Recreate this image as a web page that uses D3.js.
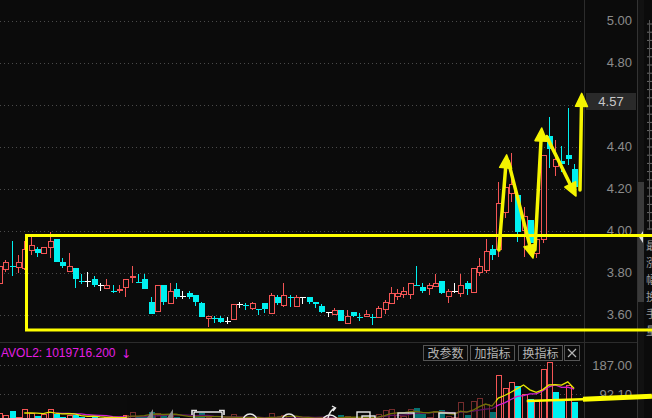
<!DOCTYPE html>
<html><head><meta charset="utf-8">
<script src="https://cdn.jsdelivr.net/npm/d3@7"></script>
<style>html,body{margin:0;padding:0;background:#0b0b0b;overflow:hidden}svg{display:block}</style>
</head><body><svg id="c" width="652" height="418"></svg>
<script>
// ---- data ----
const opens  = [3.751,3.818,3.834,3.827,3.822,3.908,3.913,3.894,3.922,3.960,3.851,3.808,3.822,3.762,3.760,3.770,3.741,3.727,3.715,3.720,3.732,3.782,3.758,3.770,3.661,3.618,3.741,3.656,3.722,3.689,3.703,3.694,3.656,3.584,3.582,3.584,3.570,3.580,3.651,3.644,3.632,3.629,3.656,3.608,3.684,3.646,3.682,3.642,3.682,3.684,3.661,3.642,3.613,3.604,3.622,3.561,3.613,3.591,3.594,3.591,3.589,3.627,3.656,3.689,3.699,3.699,3.743,3.732,3.727,3.737,3.760,3.689,3.713,3.703,3.751,3.708,3.803,3.813,3.913,3.913,4.089,4.180,4.170,4.003,4.051,3.894,3.960,4.451,4.308,4.332,4.360,4.294];
const highs  = [3.851,3.860,3.951,3.884,3.951,3.970,3.922,3.922,3.994,3.960,3.870,3.894,3.822,3.794,3.803,3.784,3.751,3.770,3.741,3.741,3.770,3.832,3.794,3.794,3.684,3.741,3.741,3.751,3.751,3.713,3.713,3.694,3.661,3.594,3.594,3.594,3.589,3.651,3.661,3.656,3.661,3.629,3.656,3.703,3.694,3.751,3.694,3.694,3.684,3.684,3.661,3.651,3.613,3.632,3.622,3.622,3.613,3.608,3.622,3.604,3.642,3.670,3.732,3.722,3.732,3.751,3.832,3.751,3.751,3.794,3.760,3.722,3.751,3.794,3.760,3.822,3.870,3.960,3.932,4.232,4.251,4.370,4.170,4.113,4.051,3.960,4.360,4.542,4.430,4.403,4.584,4.318];
const lows   = [3.751,3.803,3.784,3.799,3.813,3.884,3.875,3.889,3.870,3.851,3.822,3.808,3.727,3.746,3.732,3.732,3.713,3.722,3.703,3.703,3.684,3.751,3.751,3.722,3.604,3.618,3.646,3.656,3.675,3.675,3.675,3.642,3.589,3.542,3.561,3.561,3.556,3.580,3.632,3.622,3.622,3.599,3.608,3.608,3.646,3.637,3.637,3.642,3.651,3.651,3.632,3.608,3.589,3.604,3.570,3.561,3.589,3.570,3.589,3.551,3.589,3.604,3.651,3.670,3.680,3.675,3.737,3.703,3.694,3.737,3.699,3.656,3.703,3.684,3.694,3.703,3.784,3.799,3.860,3.875,4.060,4.137,3.946,3.875,3.922,3.870,3.942,4.299,4.260,4.280,4.313,4.208];
const closes = [3.832,3.851,3.830,3.851,3.913,3.932,3.894,3.922,3.951,3.851,3.832,3.832,3.770,3.758,3.760,3.741,3.741,3.741,3.711,3.724,3.770,3.786,3.754,3.722,3.604,3.741,3.661,3.713,3.684,3.689,3.684,3.661,3.589,3.594,3.578,3.565,3.570,3.651,3.651,3.640,3.656,3.625,3.627,3.694,3.656,3.694,3.678,3.684,3.682,3.661,3.651,3.613,3.613,3.622,3.570,3.594,3.594,3.587,3.604,3.587,3.632,3.661,3.703,3.703,3.713,3.751,3.739,3.713,3.741,3.751,3.703,3.713,3.713,3.741,3.722,3.822,3.832,3.903,3.884,4.132,4.208,4.222,3.994,4.070,3.942,3.960,4.360,4.389,4.341,4.318,4.341,4.208];
const volumes= [30,25,38,20,44,32,22,28,44,28,20,25,25,18,15,22,14,18,15,14,25,35,18,22,35,30,28,24,20,15,16,18,30,20,14,15,12,28,16,14,16,12,15,30,18,25,15,20,12,14,12,18,12,14,25,22,15,12,14,20,28,40,45,25,22,46,47,28,18,38,40,22,18,67,25,70,80,60,35,154,112,132,119,93,77,70,174,197,99,70,122,67];
const priceGrid = [5.00,4.80,4.60,4.40,4.20,4.00,3.80,3.60];
const priceLabels = [5.00,4.80,4.40,4.20,4.00,3.80,3.60];
const volTicks = [187.00,92.10,0.00];
const lastPrice = 4.57;
const volTitle = "AVOL2: 1019716.200";
const buttons = ["改参数","加指标","换指标"];
const sideChars = ["最","涨","幅","换","手","量"];
// annotations in data units [candle index, price]
const arrows = [
  {from:[79.1,3.908], to:[80.33,4.361]},
  {from:[80.6,4.329], to:[84.49,3.870]},
  {from:[84.8,3.908], to:[85.87,4.489]},
  {from:[86.66,4.448], to:[91.3,4.165]},
  {from:[91.93,4.194], to:[92.2,4.654]}
];
const boxAnno = {i:4.35, top:3.977, bottom:3.527};
const volLineAnno = [[83.5,70],[92.4,76],[103.3,86]];

// ---- scales ----
const svg = d3.select("#c");
const W=652,H=418;
const RED="#f45555", CYAN="#00f0f0", WHITE="#ffffff", YEL="#ffff00";
const idx = d3.range(opens.length);
const x = d3.scaleBand().domain(idx).range([-4.16, 577.28]).padding(0);
const step = x.step(), bw = x.bandwidth();
const xc = i => x(0) + bw/2 + i*step;
const y = d3.scaleLinear().domain([3.60,5.00]).range([314.7,20.7]);
const yv = d3.scaleLinear().domain([0,187]).range([422.7,365]);

svg.append("rect").attr("width",W).attr("height",H).attr("fill","#0b0b0b");

// grid
const gridG = svg.append("g");
gridG.selectAll("line.p").data(priceGrid).join("line").attr("class","p")
  .attr("x1",0).attr("x2",584).attr("y1",d=>Math.round(y(d))+0.5).attr("y2",d=>Math.round(y(d))+0.5)
  .attr("stroke","#4a4a4a").attr("stroke-dasharray","1,3");
gridG.selectAll("line.v").data(volTicks.slice(0,2)).join("line").attr("class","v")
  .attr("x1",0).attr("x2",584).attr("y1",d=>Math.round(yv(d))+0.5).attr("y2",d=>Math.round(yv(d))+0.5)
  .attr("stroke","#4a4a4a").attr("stroke-dasharray","1,3");

// frame lines
svg.append("line").attr("x1",0).attr("x2",637).attr("y1",342.5).attr("y2",342.5).attr("stroke","#2c2c2c");
svg.append("line").attr("x1",584.5).attr("x2",584.5).attr("y1",0).attr("y2",H).attr("stroke","#2c2c2c");
svg.append("line").attr("x1",637.5).attr("x2",637.5).attr("y1",0).attr("y2",H).attr("stroke","#333");

// axis labels
const axisR = d3.axisRight(y).tickValues(priceLabels).tickFormat(d3.format(".2f")).tickSize(0);
const ag = svg.append("g").attr("transform","translate(632,0)").call(axisR);
ag.select(".domain").remove();
ag.selectAll("text").attr("text-anchor","end").attr("x",0).attr("fill","#8c8c8c")
  .style("font-family","'Liberation Sans',Arial,sans-serif").style("font-size","13px");

const axisV = d3.axisRight(yv).tickValues(volTicks).tickFormat(d3.format(".2f")).tickSize(0);
const av = svg.append("g").attr("transform","translate(632,0)").call(axisV);
av.select(".domain").remove();
av.selectAll("text").attr("text-anchor","end").attr("x",0).attr("fill","#8c8c8c")
  .style("font-family","'Liberation Sans',Arial,sans-serif").style("font-size","13px");

// last price box
const lpY = y(lastPrice) - 9.5;
svg.append("rect").attr("x",586).attr("y",lpY-8.5).attr("width",50).attr("height",17).attr("fill","#2a2a2a");
svg.append("text").attr("x",611).attr("y",lpY).attr("dy","0.35em").attr("text-anchor","middle")
  .attr("fill","#c8c8c8").style("font-family","'Liberation Sans',Arial,sans-serif").style("font-size","13px")
  .text(d3.format(".2f")(lastPrice));

// scrollbar
svg.append("rect").attr("x",638).attr("y",0).attr("width",6).attr("height",H).attr("fill","#111");
svg.append("rect").attr("x",638).attr("y",182).attr("width",6).attr("height",120).attr("fill","#3a3a3a");
svg.append("path").attr("d","M643,231 L639,237 L643,243 Z").attr("fill","#e0e0e0");

// right strip fragments
const sideG = svg.append("g");
sideG.selectAll("line").data(d3.range(0,26)).join("line")
  .attr("x1",647).attr("x2",652).attr("y1",d=>24+d*8.2).attr("y2",d=>24+d*8.2).attr("stroke","#6a6a6a");
sideG.append("line").attr("x1",649.5).attr("x2",649.5).attr("y1",20).attr("y2",230).attr("stroke","#555");
sideG.selectAll("text").data(sideChars).join("text")
  .attr("x",646).attr("y",(d,i)=>250+i*17).attr("fill","#9a9a9a")
  .style("font-family","'Noto Sans CJK SC'").style("font-size","11px").text(d=>d);

// candles
const cg = svg.append("g").attr("shape-rendering","crispEdges");
const col = i => closes[i]>opens[i]?RED:(closes[i]<opens[i]?CYAN:WHITE);
idx.forEach(i=>{
  const cx = Math.round(xc(i))+0.5;
  const c = col(i);
  cg.append("line").attr("x1",cx).attr("x2",cx).attr("y1",y(highs[i])).attr("y2",y(lows[i])).attr("stroke",c);
  const top = y(Math.max(opens[i],closes[i])), bot = y(Math.min(opens[i],closes[i]));
  if (c===RED) {
    cg.append("rect").attr("x",cx-2.5).attr("y",Math.round(top)+0.5).attr("width",5)
      .attr("height",Math.max(1,Math.round(bot-top))).attr("fill","#0b0b0b").attr("stroke",RED);
  } else if (c===CYAN) {
    cg.append("rect").attr("x",cx-3).attr("y",Math.round(top)).attr("width",6)
      .attr("height",Math.max(1,Math.round(bot-top))).attr("fill",CYAN);
  } else {
    cg.append("line").attr("x1",cx-3).attr("x2",cx+3).attr("y1",Math.round(top)+0.5).attr("y2",Math.round(top)+0.5).attr("stroke",WHITE);
  }
});

// volume bars
const vg = svg.append("g").attr("shape-rendering","crispEdges");
idx.forEach(i=>{
  const prev = i>0?closes[i-1]:opens[i];
  const up = closes[i]>=prev;
  const cx = Math.round(xc(i))+0.5;
  const top = Math.round(yv(volumes[i]));
  if (up) vg.append("rect").attr("x",cx-2.5).attr("y",top+0.5).attr("width",5).attr("height",430-top).attr("fill","#0b0b0b").attr("stroke",RED);
  else vg.append("rect").attr("x",cx-3).attr("y",top).attr("width",6).attr("height",430-top).attr("fill",CYAN);
});
// volume MAs
function ma(n){return idx.map(i=> i<n-1?null: d3.mean(volumes.slice(i-n+1,i+1)));}
const lineV = d3.line().defined(d=>d[1]!=null).x(d=>xc(d[0])).y(d=>yv(d[1]));
svg.append("path").datum(ma(10).map((v,i)=>[i,v])).attr("d",lineV).attr("fill","none").attr("stroke","#d020d0").attr("stroke-width",1.3);
svg.append("path").datum(ma(5).map((v,i)=>[i,v])).attr("d",lineV).attr("fill","none").attr("stroke","#e8e800").attr("stroke-width",1.3);

// toolbar overlay with icons
svg.append("rect").attr("x",127).attr("y",396).attr("width",369).attr("height",22).attr("fill","rgba(11,11,11,0.55)");
const ic = svg.append("g").attr("fill","none").attr("stroke","#e8e8e8").attr("stroke-width",1.4);
ic.append("rect").attr("x",194).attr("y",412).attr("width",28).attr("height",12).attr("rx",1);
ic.append("path").attr("d","M192,415 V410.5 H197 M219,410.5 H224 V415").attr("stroke-width",1.6);
ic.append("circle").attr("cx",250).attr("cy",421).attr("r",7);
ic.append("circle").attr("cx",289).attr("cy",421).attr("r",7);
ic.append("circle").attr("cx",330).attr("cy",423).attr("r",8);
ic.append("path").attr("d","M328,418 Q330,410 335,408 M332,406 L335.5,408 L333,411");
ic.append("rect").attr("x",357).attr("y",412).attr("width",13).attr("height",10);
ic.append("rect").attr("x",362).attr("y",416).attr("width",13).attr("height",8);
ic.append("rect").attr("x",398).attr("y",413).attr("width",16).attr("height",9);
ic.append("rect").attr("x",439).attr("y",413).attr("width",16).attr("height",9);
svg.append("path").attr("d","M147,418 L153,409 L153,418 Z M167,418 L173,409 L173,418 Z").attr("fill","#8a8a8a");

// volume title
svg.append("text").attr("x",1).attr("y",357).attr("fill","#e41ee4")
  .style("font-family","'Liberation Sans',Arial,sans-serif").style("font-size","12px").text(volTitle);
svg.append("text").attr("x",121).attr("y",358).attr("fill","#e41ee4")
  .style("font-family","'DejaVu Sans'").style("font-size","12px").text("↓");

// buttons
const bx=[423,470,518];
buttons.forEach((b,k)=>{
  svg.append("rect").attr("x",bx[k]+0.5).attr("y",345.5).attr("width",44).attr("height",15).attr("fill","#0b0b0b").attr("stroke","#555");
  svg.append("text").attr("x",bx[k]+22.5).attr("y",357.5).attr("text-anchor","middle").attr("fill","#b4b4b4")
    .style("font-family","'Noto Sans CJK SC'").style("font-size","12px").text(b);
});
svg.append("rect").attr("x",564.5).attr("y",345.5).attr("width",15).attr("height",15).attr("fill","#0b0b0b").attr("stroke","#555");
svg.append("path").attr("d","M568,349 L576,357 M576,349 L568,357").attr("stroke","#b4b4b4").attr("stroke-width",1.2);

// yellow annotation box
const bxL = xc(boxAnno.i);
svg.append("path").attr("d",`M${W+10},${y(boxAnno.top)} H${bxL} V${y(boxAnno.bottom)} H${W+10}`)
  .attr("fill","none").attr("stroke",YEL).attr("stroke-width",3);

// arrows
const ag2 = svg.append("g");
arrows.forEach(a=>{
  const x1=xc(a.from[0]), y1=y(a.from[1]), x2=xc(a.to[0]), y2=y(a.to[1]);
  const dx=x2-x1, dy=y2-y1, L=Math.hypot(dx,dy), ux=dx/L, uy=dy/L;
  const hl=13, hw=6;
  const bxp=x2-ux*hl, byp=y2-uy*hl;
  ag2.append("line").attr("x1",x1).attr("y1",y1).attr("x2",x2-ux*6).attr("y2",y2-uy*6)
    .attr("stroke","#f4f400").attr("stroke-width",3.5).attr("stroke-linecap","round");
  ag2.append("path").attr("d",`M${x2},${y2} L${bxp-uy*hw},${byp+ux*hw} L${bxp+uy*hw},${byp-ux*hw} Z`)
    .attr("fill","#f4f400").attr("stroke","#f4f400").attr("stroke-width",1.5).attr("stroke-linejoin","round");
});

// yellow line in volume panel
svg.append("path").datum(volLineAnno).attr("d",d3.line().x(d=>xc(d[0])).y(d=>yv(d[1])))
  .attr("fill","none").attr("stroke",YEL).attr("stroke-width",2.5);
svg.append("path").datum(volLineAnno.slice(1)).attr("d",d3.line().x(d=>xc(d[0])).y(d=>yv(d[1])))
  .attr("fill","none").attr("stroke",YEL).attr("stroke-width",5);
</script></body></html>
